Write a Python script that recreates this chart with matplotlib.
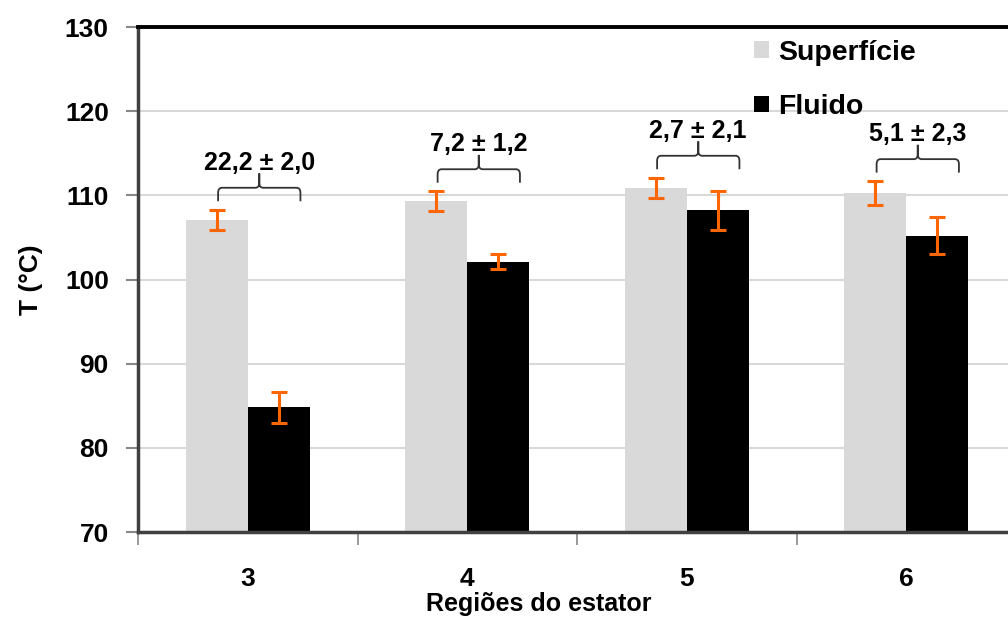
import numpy as np
import matplotlib.pyplot as plt
from matplotlib.path import Path
from matplotlib.patches import PathPatch

plt.rcParams['font.family'] = ['Liberation Sans', 'DejaVu Sans']
plt.rcParams['font.weight'] = 'bold'

# data
regioes = ['3', '4', '5', '6']
superficie = [107.1, 109.3, 110.9, 110.3]
superficie_err = [1.2, 1.2, 1.2, 1.4]
fluido = [84.8, 102.1, 108.2, 105.2]
fluido_err = [1.8, 0.9, 2.3, 2.2]
diferencas = ['22,2 ± 2,0', '7,2 ± 1,2', '2,7 ± 2,1', '5,1 ± 2,3']


def brace(ax, x0, x1, yb, ym, yt, rx=0.018, ry=0.6):
    # curly brace: two legs, horizontal bar and a tip in the middle
    xc = (x0 + x1) / 2
    verts, codes = [], []
    for xs, sgn in ((x0, 1), (x1, -1)):
        verts += [(xs, yb), (xs, ym - ry), (xs, ym), (xs + sgn * rx, ym),
                  (xc - sgn * rx, ym), (xc, ym), (xc, ym + ry), (xc, yt)]
        codes += [Path.MOVETO, Path.LINETO, Path.CURVE3, Path.CURVE3,
                  Path.LINETO, Path.CURVE3, Path.CURVE3, Path.LINETO]
    ax.add_patch(PathPatch(Path(verts, codes), fill=False, edgecolor='#333333',
                           lw=1.3, zorder=4))


fig = plt.figure(figsize=(10.08, 6.21), dpi=100)
ax = fig.add_axes([138 / 1008, 1 - 532 / 621, 878 / 1008, 505 / 621])

x = np.arange(len(regioes))
w = 0.282
ax.bar(x - w / 2, superficie, w, color='#D9D9D9', label='Superfície', zorder=2)
ax.bar(x + w / 2, fluido, w, color='black', label='Fluido', zorder=2)
ax.errorbar(x - w / 2, superficie, yerr=superficie_err, fmt='none', ecolor='#FF6600',
            elinewidth=2.2, capsize=5.5, capthick=2.2, zorder=3)
ax.errorbar(x + w / 2, fluido, yerr=fluido_err, fmt='none', ecolor='#FF6600',
            elinewidth=2.2, capsize=5.5, capthick=2.2, zorder=3)

for i in range(len(regioes)):
    yb = superficie[i] + superficie_err[i] + 1.0
    brace(ax, x[i] - 0.135, x[i] + 0.24, yb, yb + 1.6, yb + 3.3)
    ax.text(x[i] + 0.052, yb + 4.6, diferencas[i], ha='center', va='center',
            fontsize=18, fontweight='bold', zorder=5)

ax.set_xlim(-0.5, 3.5)
ax.set_ylim(70, 130)
ax.set_yticks(np.arange(70, 131, 10))
ax.yaxis.grid(True, color='#D9D9D9', lw=1.5)
ax.set_axisbelow(True)

ax.set_xticks(x)
ax.set_xticklabels(regioes)
ax.set_xticks(np.arange(-0.5, 4, 1), minor=True)
ax.tick_params(axis='x', which='major', length=0, pad=25, labelsize=19)
ax.tick_params(axis='x', which='minor', length=9, width=1.2, color='#888888')
ax.tick_params(axis='y', length=9, width=1.5, color='#888888', pad=12, labelsize=19)

for s in ('left', 'bottom'):
    ax.spines[s].set_color('#404040')
    ax.spines[s].set_linewidth(2.5)
ax.spines['top'].set_color('black')
ax.spines['top'].set_linewidth(2.8)
ax.spines['right'].set_visible(False)

ax.set_xlabel('Regiões do estator', fontsize=18, fontweight='bold')
ax.xaxis.set_label_coords(0.456, -0.119)
ax.set_ylabel('T (°C)', fontsize=19, fontweight='bold')
ax.yaxis.set_label_coords(-0.108, 0.5)

leg = ax.legend(loc='upper left', bbox_to_anchor=(0.702, 0.975), frameon=False,
                prop={'size': 20.5, 'weight': 'bold'}, handlelength=0.5, handleheight=0.5,
                handletextpad=0.35, labelspacing=1.0, borderpad=0, borderaxespad=0)

fig.savefig('out.png', dpi=100)
